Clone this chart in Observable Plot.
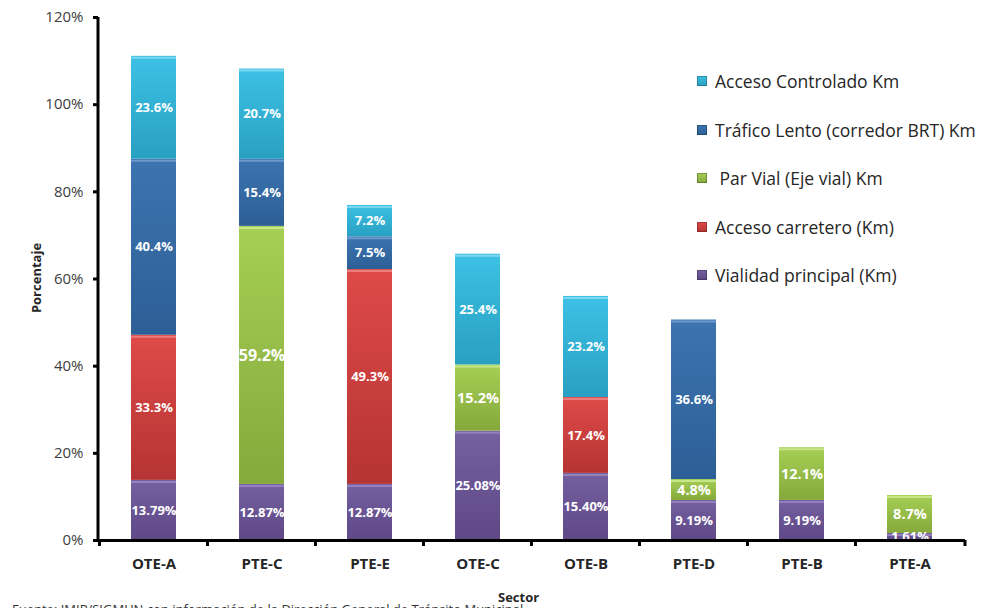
<!DOCTYPE html>
<html>
<head>
<meta charset="utf-8">
<script src="https://cdn.jsdelivr.net/npm/d3@7"></script>
<script src="https://cdn.jsdelivr.net/npm/@observablehq/plot@0.6"></script>
<style>
  body { margin: 0; background: #fff; font-family: "Open Sans", sans-serif; }
  #wrap { position: relative; width: 1004px; height: 608px; overflow: hidden; }
  .lg { position: absolute; left: 697px; font-size: 17.5px; color: #262626; white-space: pre; display: flex; align-items: center; line-height: 20px; }
  .lg i { display: inline-block; width: 10px; height: 10px; margin-right: 8px; box-shadow: inset 0 0 0 1px rgba(0,0,0,0.25); }
  .ttl { position: absolute; font-weight: bold; font-size: 13px; color: #262626; line-height: 16px; }
</style>
</head>
<body>
<div id="wrap"></div>
<script>
const sectors = ["OTE-A", "PTE-C", "PTE-E", "OTE-C", "OTE-B", "PTE-D", "PTE-B", "PTE-A"];
const seriesNames = ["Vialidad principal (Km)", "Acceso carretero (Km)", " Par Vial (Eje vial) Km", "Tráfico Lento (corredor BRT) Km", "Acceso Controlado Km"];
const vialidadPrincipal = [13.79, 12.87, 12.87, 25.08, 15.40, 9.19, 9.19, 1.61];
const accesoCarretero   = [33.3, null, 49.3, null, 17.4, null, null, null];
const parVial           = [null, 59.2, null, 15.2, null, 4.8, 12.1, 8.7];
const traficoLento      = [40.4, 15.4, 7.5, null, null, 36.6, null, null];
const accesoControlado  = [23.6, 20.7, 7.2, 25.4, 23.2, null, null, null];
const yTicks = [0, 20, 40, 60, 80, 100, 120];

const seriesValues = [vialidadPrincipal, accesoCarretero, parVial, traficoLento, accesoControlado];
const decimals = [2, 1, 1, 1, 1];
const colorTop = ["#7560a0", "#de4a48", "#a5cf55", "#3c74b0", "#3cc1e4"];
const colorBot = ["#5e4886", "#b53433", "#85a93b", "#2d5f96", "#29a0c2"];
const colorHi  = ["#9b88c4", "#f08a88", "#d0ec96", "#7aa3d4", "#8fdcf2"];

// build stacked table (series order = bottom to top)
const data = [];
const base = sectors.map(() => 0);
seriesValues.forEach((vals, si) => {
  vals.forEach((v, i) => {
    if (v == null) return;
    const y1 = base[i], y2 = base[i] + v;
    base[i] = y2;
    data.push({sector: sectors[i], series: seriesNames[si], si, value: v, y1, y2, mid: (y1 + y2) / 2,
               label: v.toFixed(decimals[si]) + "%"});
  });
});

const chart = Plot.plot({
  width: 1004,
  height: 608,
  marginLeft: 98,
  marginRight: 39,
  marginTop: 17,
  marginBottom: 68,
  style: {fontFamily: "'Open Sans', sans-serif", background: "transparent"},
  x: {domain: sectors, paddingInner: 0.585, paddingOuter: 0.2925, label: null},
  y: {domain: [0, 120], label: null},
  color: {domain: seriesNames, range: seriesNames.map((d, i) => `url(#grad${i})`)},
  marks: [
    Plot.barY(data, {x: "sector", y1: "y1", y2: "y2", fill: "series"}),
    Plot.tickY(data, {x: "sector", y: "y2", stroke: d => colorHi[d.si], strokeWidth: 2, strokeOpacity: 0.8, dy: 1.5}),
    Plot.text(data, {x: "sector", y: "mid", text: "label", fill: "white", fontWeight: "bold",
                     fontSize: d => d.si === 2 ? (d.value > 50 ? 16 : 14.5) : 13}),
    Plot.ruleY([0], {strokeWidth: 3, stroke: "black"}),
    Plot.axisY({ticks: yTicks, tickFormat: d => d + "%", tickSize: 5, tickPadding: 10, strokeWidth: 3,
                stroke: "black", fill: "#404040", fontSize: 15, label: null}),
    Plot.axisX({tickSize: 0, tickPadding: 18, fontWeight: "bold", fontSize: 15, fill: "#262626", label: null})
  ]
});

const wrap = document.getElementById("wrap");
wrap.appendChild(chart);

const svg = d3.select(chart);
// make sure axis label sizes apply
svg.selectAll('g[aria-label="y-axis tick label"]').attr("font-size", 15);
svg.selectAll('g[aria-label="y-axis tick label"] text').attr("font-size", 15);
svg.selectAll('g[aria-label="x-axis tick label"]').attr("font-size", 15);
svg.selectAll('g[aria-label="x-axis tick label"] text').attr("font-size", 15);

// gradients
const defs = svg.insert("defs", ":first-child");
colorTop.forEach((c, i) => {
  const g = defs.append("linearGradient").attr("id", `grad${i}`).attr("x1", 0).attr("y1", 0).attr("x2", 0).attr("y2", 1);
  g.append("stop").attr("offset", "0%").attr("stop-color", c);
  g.append("stop").attr("offset", "100%").attr("stop-color", colorBot[i]);
});

// y axis line and x band-boundary ticks using Plot's scales
const xs = chart.scale("x"), ys = chart.scale("y");
const [yb, yt] = ys.range;
const x0 = xs.range[0];
svg.append("line").attr("x1", x0).attr("x2", x0).attr("y1", yb + 1.5).attr("y2", yt)
   .attr("stroke", "black").attr("stroke-width", 3);
const bounds = sectors.map(s => xs.apply(s) - (xs.step - xs.bandwidth) / 2).concat([xs.range[1]]);
svg.append("g").selectAll("line").data(bounds).join("line")
   .attr("x1", d => d).attr("x2", d => d).attr("y1", yb).attr("y2", yb + 6)
   .attr("stroke", "black").attr("stroke-width", 3);

// legend (top to bottom is reverse of stacking)
const legendTops = [71, 120, 168, 217, 265];
[4, 3, 2, 1, 0].forEach((si, k) => {
  const div = document.createElement("div");
  div.className = "lg";
  div.style.top = legendTops[k] + "px";
  div.innerHTML = `<i style="background:linear-gradient(${colorTop[si]},${colorBot[si]})"></i>${seriesNames[si]}`;
  wrap.appendChild(div);
});

// axis titles and source note
const t1 = document.createElement("div");
t1.className = "ttl"; t1.textContent = "Sector";
t1.style.left = "498px"; t1.style.top = "589px";
wrap.appendChild(t1);
const t2 = document.createElement("div");
t2.className = "ttl"; t2.textContent = "Porcentaje";
t2.style.left = "0px"; t2.style.top = "270px"; t2.style.width = "72px"; t2.style.textAlign = "center";
t2.style.transform = "rotate(-90deg)";
wrap.appendChild(t2);
const src = document.createElement("div");
src.className = "ttl"; src.style.fontWeight = "normal"; src.style.color = "#333";
src.textContent = "Fuente: IMIP/SIGMUN con información de la Dirección General de Tránsito Municipal.";
src.style.left = "12px"; src.style.top = "601px";
wrap.appendChild(src);
</script>
</body>
</html>
